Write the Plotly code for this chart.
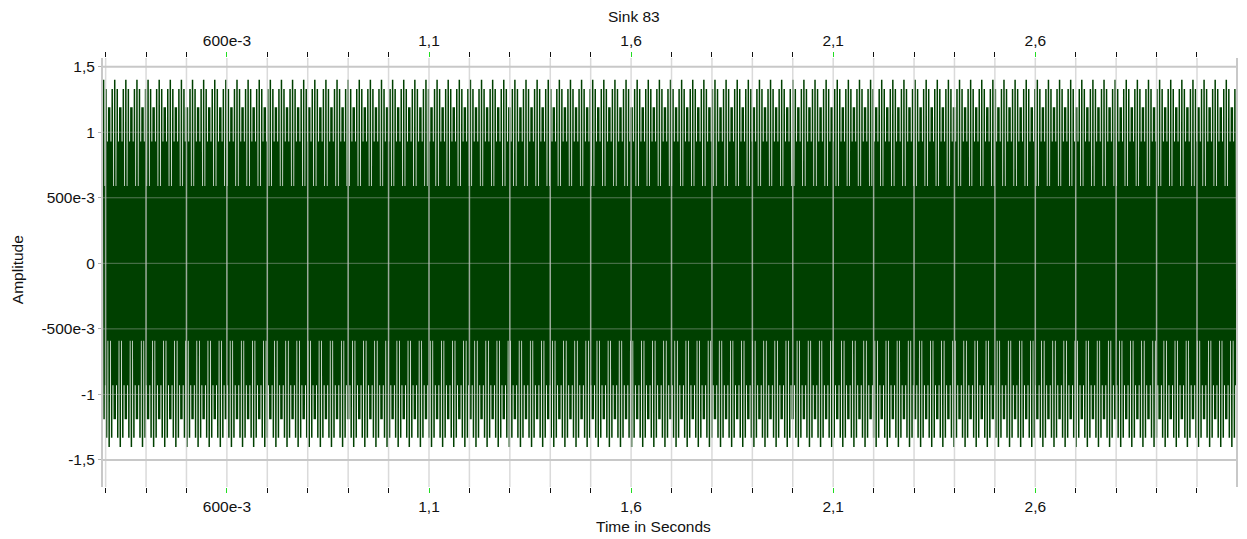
import plotly.graph_objects as go

# One period of the sampled test tone (22 samples, amplitude levels as plotted)
period_samples = [1.40, -1.19, 0.59, 0.20, -0.93, 1.33, -1.33, 0.93, -0.20, -0.59, 1.19,
                  -1.40, 1.19, -0.59, -0.20, 0.93, -1.33, 1.33, -0.93, 0.20, 0.59, -1.19]
sample_rate = 800.0          # samples per second
t_start = 0.295              # seconds
t_end = 3.095                # seconds

# axis ticks
x_major = [0.6, 1.1, 1.6, 2.1, 2.6]
x_major_text = ["600e-3", "1,1", "1,6", "2,1", "2,6"]
x_minor = [0.3, 0.4, 0.5, 0.7, 0.8, 0.9, 1.0, 1.2, 1.3, 1.4, 1.5, 1.7, 1.8, 1.9, 2.0,
           2.2, 2.3, 2.4, 2.5, 2.7, 2.8, 2.9, 3.0]
y_ticks = [-1.5, -1.0, -0.5, 0.0, 0.5, 1.0, 1.5]
y_tick_text = ["-1,5", "-1", "-500e-3", "0", "500e-3", "1", "1,5"]

# sample stream: the periodic tone laid out on the sample clock
n_samples = int((t_end - t_start) * sample_rate) + 1
t = [t_start + i / sample_rate for i in range(n_samples)]
y = [period_samples[i % len(period_samples)] for i in range(n_samples)]

FONT = "Arial, Liberation Sans, sans-serif"
GRID = "#c8c8c8"
X_RANGE = [0.2935, 3.0965]
Y_RANGE = [-1.706, 1.566]

fig = go.Figure()
fig.add_trace(go.Scatter(x=t, y=y, mode="lines", xaxis="x", yaxis="y",
                         line=dict(color="#004000", width=1.5, simplify=False),
                         hoverinfo="skip", showlegend=False))
# carrier for the top axis
fig.add_trace(go.Scatter(x=[t_start, t_end], y=[0, 0], mode="lines", xaxis="x2", yaxis="y",
                         line=dict(width=0), opacity=0, hoverinfo="skip", showlegend=False))

xcommon = dict(range=X_RANGE, showgrid=False, zeroline=False, showline=False,
               tickmode="array", tickvals=x_major, ticktext=x_major_text,
               ticks="outside", ticklen=5, tickwidth=1, tickcolor="#22dd22",
               tickfont=dict(family=FONT, size=15.5, color="#111111"),
               minor=dict(tickvals=x_minor, ticks="outside", ticklen=5, tickwidth=1,
                          tickcolor="#111111", showgrid=False))

fig.update_layout(
    width=1247, height=539,
    margin=dict(l=103, r=9, t=58, b=52),
    paper_bgcolor="white", plot_bgcolor="white",
    xaxis=dict(**xcommon, side="bottom", anchor="y"),
    xaxis2=dict(**xcommon, side="top", overlaying="x", anchor="y"),
    yaxis=dict(range=Y_RANGE, tickmode="array", tickvals=y_ticks, ticktext=y_tick_text,
               showgrid=False, zeroline=False, showline=True, linecolor=GRID, linewidth=2,
               mirror=True, ticks="outside", ticklen=3, tickcolor="#b0b0b0",
               tickfont=dict(family=FONT, size=15.5, color="#111111")),
)

shapes = []
# vertical grid every 0.1 s, drawn over the trace
for v in sorted(x_major + x_minor):
    shapes.append(dict(type="line", xref="x", yref="paper", x0=v, x1=v, y0=0, y1=1,
                       layer="above", line=dict(color="rgba(205,205,205,0.75)", width=1.5)))
# horizontal grid
for v in y_ticks:
    if abs(v) == 1.5:
        shapes.append(dict(type="line", xref="paper", yref="y", x0=0, x1=1, y0=v, y1=v,
                           layer="above", line=dict(color=GRID, width=2)))
    else:
        shapes.append(dict(type="line", xref="paper", yref="y", x0=0, x1=1, y0=v, y1=v,
                           layer="above", line=dict(color="rgba(190,190,190,0.45)", width=1)))
fig.update_layout(shapes=shapes)

annotations = [
    dict(text="Sink 83", x=0.4687, y=1.0956, xref="paper", yref="paper", showarrow=False,
         font=dict(family=FONT, size=15.5, color="#111111"), xanchor="center", yanchor="middle"),
    dict(text="Time in Seconds", x=0.4863, y=-0.0932, xref="paper", yref="paper",
         showarrow=False, font=dict(family=FONT, size=15.5, color="#111111"),
         xanchor="center", yanchor="middle"),
    dict(text="Amplitude", x=-0.0758, y=0.5058, xref="paper", yref="paper", showarrow=False,
         textangle=-90, font=dict(family=FONT, size=15.5, color="#111111"),
         xanchor="center", yanchor="middle"),
]
fig.update_layout(annotations=annotations)

fig.write_html("out.html")
